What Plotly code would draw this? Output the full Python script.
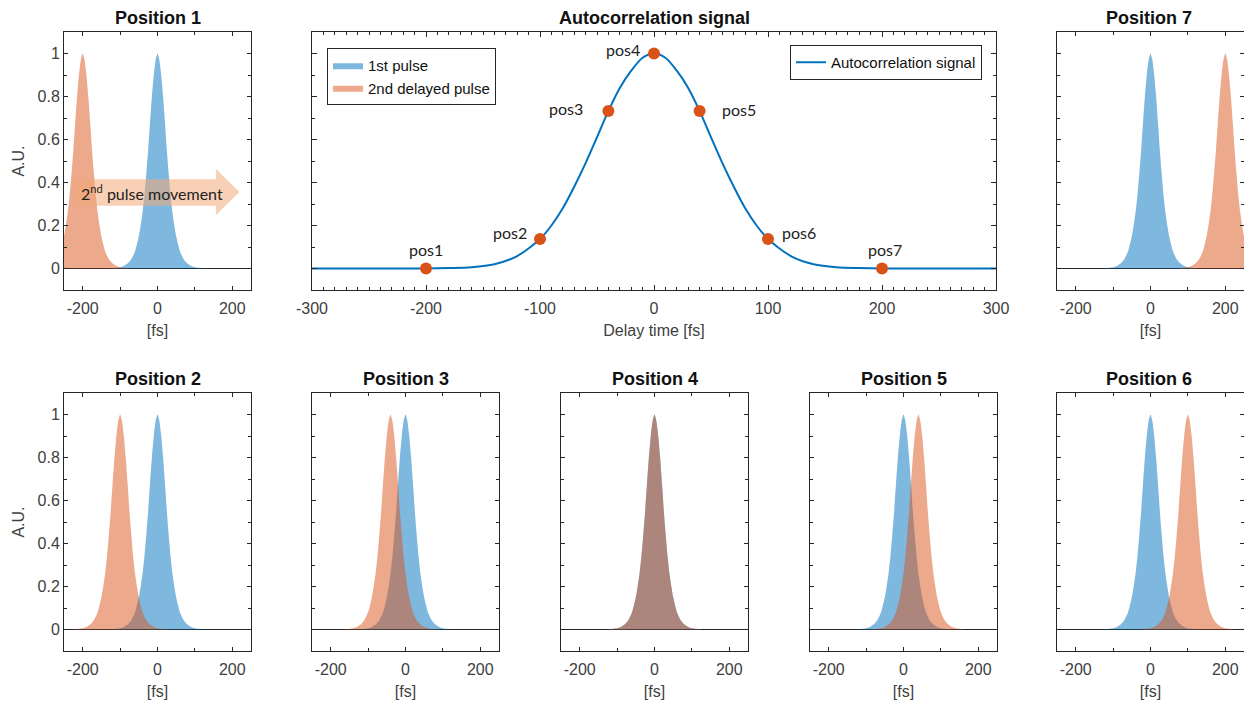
import plotly.graph_objects as go

# pulse shape (time offset from pulse centre [fs], A.U.)
pulse_offsets = [-130, -110, -100, -90, -80, -70, -60, -50, -45, -40, -35, -30, -25, -20, -15, -10, -5, 0,
                 5, 10, 15, 20, 25, 30, 35, 40, 45, 50, 60, 70, 80, 90, 100, 110, 130]
pulse_values = [0.0, 0.003, 0.006, 0.012, 0.023, 0.043, 0.08, 0.15, 0.20, 0.26, 0.34, 0.44, 0.55, 0.68, 0.80, 0.90, 0.97, 1.0,
                0.97, 0.90, 0.80, 0.68, 0.55, 0.44, 0.34, 0.26, 0.20, 0.15, 0.08, 0.043, 0.023, 0.012, 0.006, 0.003, 0.0]

# autocorrelation signal
delay_fs = [-300, -260, -220, -200, -180, -160, -140, -120, -100, -90, -80, -70, -60, -50, -40, -30, -20, -10, 0,
            10, 20, 30, 40, 50, 60, 70, 80, 90, 100, 120, 140, 160, 180, 200, 220, 260, 300]
autocorr = [0, 0, 0, 0.0, 0.002, 0.006, 0.02, 0.058, 0.137, 0.20, 0.28, 0.38, 0.49, 0.61, 0.733, 0.84, 0.92, 0.98, 1.0,
            0.98, 0.92, 0.84, 0.733, 0.61, 0.49, 0.38, 0.28, 0.20, 0.137, 0.058, 0.02, 0.006, 0.002, 0.0, 0, 0, 0]

pos_labels = ['pos1', 'pos2', 'pos3', 'pos4', 'pos5', 'pos6', 'pos7']
pos_delays = [-200, -100, -40, 0, 40, 100, 200]
pos_values = [0.0, 0.137, 0.733, 1.0, 0.733, 0.137, 0.0]

# tick labels
pulse_ticks = [-200, 0, 200]
pulse_ticktext = ['-200', '0', '200']
delay_ticks = [-300, -200, -100, 0, 100, 200, 300]
delay_ticktext = ['-300', '-200', '-100', '0', '100', '200', '300']

# label offsets (px) for the posN labels
label_shift = [(0, 19), (-30, 7), (-42, 2), (-31, 4), (39, 1), (31, 7), (3, 19)]

BLUE = '#0072BD'
ORANGE = '#D95319'
BLUE_FILL = 'rgba(0,114,189,0.5)'
ORANGE_FILL = 'rgba(217,83,25,0.5)'
AX = '#262626'
TXT = '#404040'
CAL = 'Lato, Open Sans, sans-serif'

W, H = 1244, 711

fig = go.Figure()

top_y = (32, 290)
bot_y = (393, 651)
panels = [
    ('Position 1', 64, top_y, 0),
    ('Position 7', 1057, top_y, 6),
    ('Position 2', 64, bot_y, 1),
    ('Position 3', 312, bot_y, 2),
    ('Position 4', 561, bot_y, 3),
    ('Position 5', 810, bot_y, 4),
    ('Position 6', 1057, bot_y, 5),
]
pw = 187


def px(v):
    return v / W


def py(v):
    return 1 - v / H


def xdom(l, r):
    return [px(l), min(px(r), 1.0)]


def ydom(t, b):
    return [py(b), py(t)]


annotations = []
layout_axes = {}

for i, (name, left, (t, b), di) in enumerate(panels):
    n = '' if i == 0 else str(i + 2)
    xa, ya = 'x' + n, 'y' + n
    d = pos_delays[di]
    fig.add_trace(go.Scatter(x=pulse_offsets, y=pulse_values, xaxis=xa, yaxis=ya, mode='lines',
                             line=dict(width=0, shape='spline', smoothing=0.6), fill='tozeroy',
                             fillcolor=BLUE_FILL, name='1st pulse', legend='legend',
                             showlegend=(i == 0), hoverinfo='skip'))
    fig.add_trace(go.Scatter(x=[o + d for o in pulse_offsets], y=pulse_values, xaxis=xa, yaxis=ya, mode='lines',
                             line=dict(width=0, shape='spline', smoothing=0.6), fill='tozeroy',
                             fillcolor=ORANGE_FILL, name='2nd delayed pulse', legend='legend',
                             showlegend=(i == 0), hoverinfo='skip'))
    show_y = name in ('Position 1', 'Position 2')
    layout_axes['xaxis' + n] = dict(domain=xdom(left, left + pw), anchor=ya, range=[-250, 250],
                                    tickmode='array', tickvals=pulse_ticks, ticktext=pulse_ticktext,
                                    ticks='inside', ticklen=4, tickcolor=AX, ticklabelstandoff=4,
                                    minor=dict(tickmode='array', tickvals=[-100, 100], ticks='inside',
                                               ticklen=3, tickcolor=AX),
                                    showline=True, linecolor=AX, linewidth=1, mirror='ticks',
                                    showgrid=False, zeroline=False, automargin=False,
                                    tickfont=dict(size=16, color=TXT),
                                    title=dict(text='[fs]', standoff=8, font=dict(size=16, color=TXT)))
    yax = dict(domain=ydom(t, b), anchor=xa, range=[-0.1, 1.1],
               tick0=0, dtick=0.2, ticks='inside', ticklen=4, tickcolor=AX,
               minor=dict(dtick=0.1, ticks='inside', ticklen=3, tickcolor=AX),
               showline=True, linecolor=AX, linewidth=1, mirror='ticks',
               showgrid=False, zeroline=True, zerolinecolor=AX, zerolinewidth=1,
               showticklabels=show_y, automargin=False, tickfont=dict(size=16, color=TXT))
    if show_y:
        yax['title'] = dict(text='A.U.', standoff=8, font=dict(size=16, color=TXT))
    layout_axes['yaxis' + n] = yax
    cx = left + pw / 2 if left + pw <= 1240 else left + pw / 2 - 2
    annotations.append(dict(text='<b>' + name + '</b>', xref='paper', yref='paper',
                            x=px(cx), y=py(t - 14), xanchor='center', yanchor='middle',
                            showarrow=False, font=dict(size=18, color='#111111')))

# autocorrelation panel uses x2/y2
fig.add_trace(go.Scatter(x=delay_fs, y=autocorr, xaxis='x2', yaxis='y2', mode='lines',
                         line=dict(color=BLUE, width=2, shape='spline', smoothing=0.8),
                         name='Autocorrelation signal', legend='legend2'))
fig.add_trace(go.Scatter(x=pos_delays, y=pos_values, xaxis='x2', yaxis='y2', mode='markers',
                         marker=dict(color=ORANGE, size=12), showlegend=False))
for lab, xv, yv, (dx, dy) in zip(pos_labels, pos_delays, pos_values, label_shift):
    annotations.append(dict(text=lab, xref='x2', yref='y2', x=xv, y=yv, xshift=dx, yshift=dy,
                            xanchor='center', yanchor='middle', showarrow=False,
                            font=dict(family=CAL, size=16, color='#222222')))

layout_axes['xaxis2'] = dict(domain=xdom(312, 996), anchor='y2', range=[-300, 300],
                             tickmode='array', tickvals=delay_ticks, ticktext=delay_ticktext,
                             ticks='inside', ticklen=5, tickcolor=AX, ticklabelstandoff=4,
                             minor=dict(dtick=10, ticks='inside', ticklen=3, tickcolor=AX),
                             showline=True, linecolor=AX, linewidth=1, mirror='ticks',
                             showgrid=False, zeroline=False, automargin=False,
                             tickfont=dict(size=16, color=TXT),
                             title=dict(text='Delay time [fs]', standoff=8, font=dict(size=16, color=TXT)))
layout_axes['yaxis2'] = dict(domain=ydom(*top_y), anchor='x2', range=[-0.1, 1.1], dtick=0.2, tick0=0,
                             ticks='inside', ticklen=5, tickcolor=AX,
                             minor=dict(dtick=0.1, ticks='inside', ticklen=3, tickcolor=AX),
                             showline=True, linecolor=AX, linewidth=1, mirror='ticks',
                             showgrid=False, zeroline=False, showticklabels=False, automargin=False)
annotations.append(dict(text='<b>Autocorrelation signal</b>', xref='paper', yref='paper',
                        x=px((312 + 996) / 2), y=py(18), xanchor='center', yanchor='middle',
                        showarrow=False, font=dict(size=18, color='#111111')))

# "2nd pulse movement" arrow in Position 1
arrow_path = ('M -221 0.292 L 156 0.292 L 156 0.249 L 219 0.356 L 156 0.463 '
              'L 156 0.415 L -221 0.415 Z')
shapes = [dict(type='path', xref='x', yref='y', path=arrow_path, layer='above',
               fillcolor='rgba(242,170,120,0.55)', line=dict(width=0))]
annotations.append(dict(text='2<sup>nd</sup> pulse movement', xref='paper', yref='y',
                        x=px(79), y=0.352, xanchor='left', yanchor='middle', showarrow=False,
                        font=dict(family=CAL, size=16, color='#222222')))

fig.update_layout(
    width=W, height=H, margin=dict(l=0, r=0, t=0, b=0),
    paper_bgcolor='white', plot_bgcolor='white',
    font=dict(family='Liberation Sans, Arial, sans-serif', size=16, color=TXT),
    annotations=annotations, shapes=shapes,
    legend=dict(x=px(327), y=py(48), xanchor='left', yanchor='top', bgcolor='white',
                bordercolor=AX, borderwidth=1, font=dict(size=15, color='#111111'),
                tracegroupgap=0, itemwidth=30),
    legend2=dict(x=px(982), y=py(45), xanchor='right', yanchor='top', bgcolor='white',
                 bordercolor=AX, borderwidth=1, font=dict(size=15, color='#111111')),
    **layout_axes,
)

# drop the page's default body margin so the figure fills the window
fig.write_html("out.html", config={'displayModeBar': False},
               post_script="document.body.style.margin='0';document.body.style.overflow='hidden';")
